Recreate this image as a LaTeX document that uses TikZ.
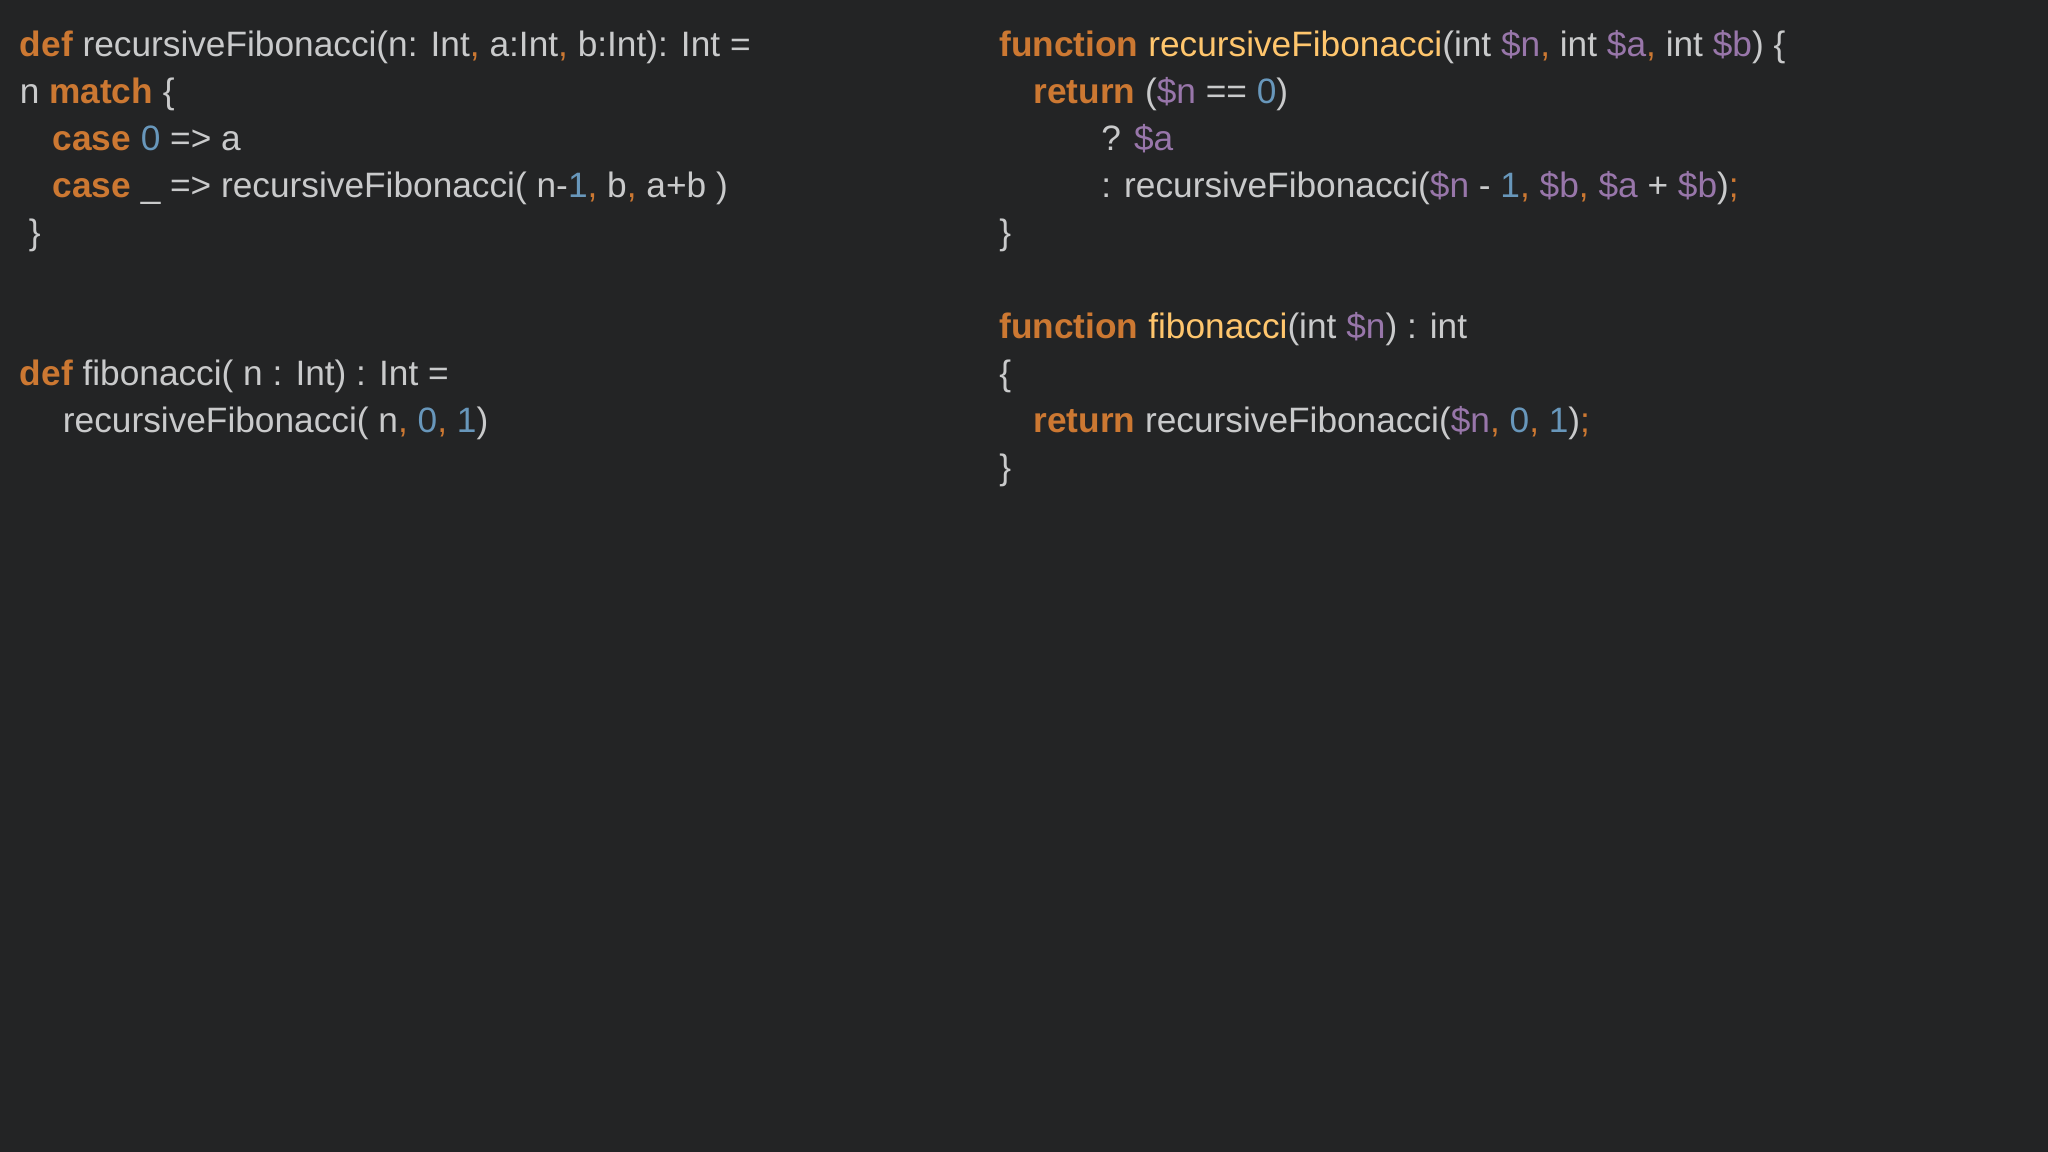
\documentclass[tikz,border=0pt]{standalone}
\usepackage{fontspec}
\setmainfont{Liberation Sans}
\definecolor{bg}{HTML}{232425}
\definecolor{tx}{HTML}{C9CACB}
\definecolor{kwc}{HTML}{CC7832}
\definecolor{numc}{HTML}{6897BB}
\definecolor{varc}{HTML}{9876AA}
\definecolor{fnc}{HTML}{FFC66D}
\newcommand{\kw}[1]{\textcolor{kwc}{\bfseries #1}}
\newcommand{\nm}[1]{\textcolor{numc}{#1}}
\newcommand{\pv}[1]{\textcolor{varc}{#1}}
\newcommand{\fn}[1]{\textcolor{fnc}{#1}}
\newcommand{\cm}{\textcolor{kwc}{,}}
\begin{document}
\begin{tikzpicture}[x=1pt,y=-1pt,
  code/.style={anchor=base west,inner sep=0pt,text=tx,font=\fontsize{27}{32}\selectfont}]
\fill[bg] (0,0) rectangle (1568,882);
\useasboundingbox (0,0) rectangle (1568,882);
% left
\node[code] (l1) at (15,43) {\kw{def} recursiveFibonacci(n: Int\cm{} a:Int\cm{} b:Int): Int =};
\node[code] (l2) at (15,79) {n \kw{match} \{};
\node[code] (l3) at (40,115) {\kw{case} \nm{0} => a};
\node[code] (l4) at (40,151) {\kw{case} \_ => recursiveFibonacci( n-\nm{1}\cm{} b\cm{} a+b )};
\node[code] (l5) at (22,187) {\}};
\node[code] (l6) at (15,295) {\kw{def} fibonacci( n : Int) : Int =};
\node[code] (l7) at (48,331) {recursiveFibonacci( n\cm{} \nm{0}\cm{} \nm{1})};
% right
\node[code] (r1) at (765,43) {\kw{function} \fn{recursiveFibonacci}(int \pv{\$n}\cm{} int \pv{\$a}\cm{} int \pv{\$b}) \{};
\node[code] (r2) at (791,79) {\kw{return} (\pv{\$n} == \nm{0})};
\node[code] (r3) at (843,115) {? \pv{\$a}};
\node[code] (r4) at (843,151) {: recursiveFibonacci(\pv{\$n} - \nm{1}\cm{} \pv{\$b}\cm{} \pv{\$a} + \pv{\$b})\textcolor{kwc}{;}};
\node[code] (r5) at (765,187) {\}};
\node[code] (r6) at (765,259) {\kw{function} \fn{fibonacci}(int \pv{\$n}) : int};
\node[code] (r7) at (765,295) {\{};
\node[code] (r8) at (791,331) {\kw{return} recursiveFibonacci(\pv{\$n}\cm{} \nm{0}\cm{} \nm{1})\textcolor{kwc}{;}};
\node[code] (r9) at (765,367) {\}};
\end{tikzpicture}
\end{document}
